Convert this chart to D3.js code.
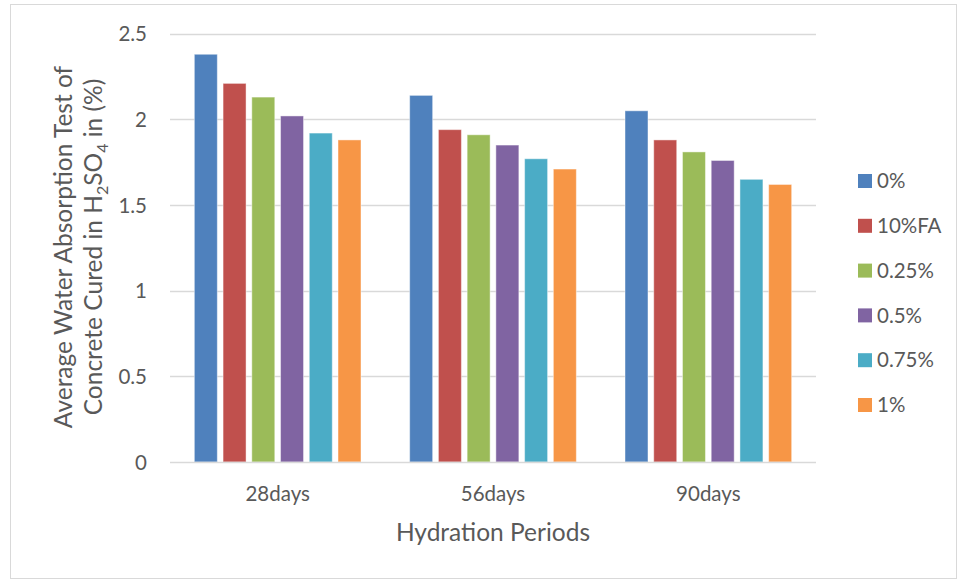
<!DOCTYPE html>
<html>
<head>
<meta charset="utf-8">
<script src="https://cdn.jsdelivr.net/npm/d3@7/dist/d3.min.js"></script>
<style>
  html, body { margin: 0; padding: 0; background: #fff; }
  svg text { font-family: Lato, "Open Sans", sans-serif; fill: #595959; }
</style>
</head>
<body>
<svg id="chart" width="958" height="581"></svg>
<script>
// Hydration periods on the x axis
const periods = ["28days", "56days", "90days"];
// Mix series shown in the legend
const mixes = ["0%", "10%FA", "0.25%", "0.5%", "0.75%", "1%"];
// Average water absorption (%) per mix, one value per period
const s0 = [2.38, 2.14, 2.05];
const s10FA = [2.21, 1.94, 1.88];
const s025 = [2.13, 1.91, 1.81];
const s05 = [2.02, 1.85, 1.76];
const s075 = [1.92, 1.77, 1.65];
const s1 = [1.88, 1.71, 1.62];
const yTicks = [0, 0.5, 1, 1.5, 2, 2.5];
const colors = ["#4F81BD", "#C0504D", "#9BBB59", "#8064A2", "#4BACC6", "#F79646"];

const seriesValues = [s0, s10FA, s025, s05, s075, s1];

const svg = d3.select("#chart");

// outer chart border
svg.append("rect")
  .attr("x", 10.5).attr("y", 4.5)
  .attr("width", 946).attr("height", 574)
  .attr("fill", "#fff").attr("stroke", "#d9d9d9").attr("stroke-width", 1);

const plot = { left: 170, right: 816, top: 33.7, bottom: 462 };

const y = d3.scaleLinear().domain([0, 2.5]).range([plot.bottom, plot.top]);
const x0 = d3.scaleBand().domain(periods).range([plot.left, plot.right]).padding(0);
const bw = x0.bandwidth();
const x1 = d3.scaleBand().domain(mixes)
  .range([bw * 0.113, bw * 0.887]).paddingInner(0.2).paddingOuter(0);

// horizontal gridlines
svg.append("g")
  .selectAll("line")
  .data(yTicks.filter(d => d > 0))
  .join("line")
  .attr("x1", plot.left).attr("x2", plot.right)
  .attr("y1", d => Math.round(y(d)) + 0.5).attr("y2", d => Math.round(y(d)) + 0.5)
  .attr("stroke", "#d9d9d9").attr("stroke-width", 1.3);

// y tick labels
const yAxis = d3.axisLeft(y).tickValues(yTicks).tickSize(0).tickPadding(0)
  .tickFormat(d => String(d));
const gy = svg.append("g").attr("transform", `translate(147,0)`).call(yAxis);
gy.select(".domain").remove();
gy.selectAll("text")
  .style("font-family", "Lato, 'Open Sans', sans-serif")
  .attr("font-size", 20.5).attr("fill", "#595959").attr("dy", "0.35em");

// bars
const groups = svg.append("g")
  .selectAll("g")
  .data(periods)
  .join("g")
  .attr("transform", d => `translate(${x0(d)},0)`);

groups.selectAll("rect")
  .data((p, i) => mixes.map((m, k) => ({ mix: m, value: seriesValues[k][i], k })))
  .join("rect")
  .attr("x", d => x1(d.mix))
  .attr("width", x1.bandwidth())
  .attr("y", d => y(d.value))
  .attr("height", d => y(0) - y(d.value))
  .attr("fill", d => colors[d.k])
  .attr("stroke", "#ffffff").attr("stroke-opacity", 0.45).attr("stroke-width", 1);

// x axis baseline
svg.append("line")
  .attr("x1", plot.left).attr("x2", plot.right)
  .attr("y1", plot.bottom + 0.5).attr("y2", plot.bottom + 0.5)
  .attr("stroke", "#d9d9d9").attr("stroke-width", 1.5);

// category labels
const xAxis = d3.axisBottom(x0).tickSize(0).tickPadding(0);
const gx = svg.append("g").attr("transform", `translate(0,${plot.bottom})`).call(xAxis);
gx.select(".domain").remove();
gx.selectAll("text")
  .style("font-family", "Lato, 'Open Sans', sans-serif")
  .attr("font-size", 20.5).attr("fill", "#595959")
  .attr("y", 32).attr("dy", "0.35em");

// x axis title
svg.append("text")
  .attr("x", (plot.left + plot.right) / 2).attr("y", 532)
  .attr("dy", "0.35em").attr("text-anchor", "middle")
  .attr("font-size", 24.5)
  .text("Hydration Periods");

// y axis title (two lines, with H2SO4 subscripts)
const yt = svg.append("text")
  .attr("transform", "translate(0,247) rotate(-90)")
  .attr("text-anchor", "middle")
  .attr("font-size", 24.5);
yt.append("tspan").attr("x", 0).attr("y", 72).text("Average Water Absorption Test of");
const l2 = yt.append("tspan").attr("x", 0).attr("y", 102);
l2.append("tspan").text("Concrete Cured in H");
l2.append("tspan").attr("font-size", 16).attr("dy", 6).text("2");
l2.append("tspan").attr("dy", -6).text("SO");
l2.append("tspan").attr("font-size", 16).attr("dy", 6).text("4");
l2.append("tspan").attr("dy", -6).text(" in (%)");

// legend
const legend = svg.append("g").attr("transform", "translate(858,0)");
const rowY = d3.scalePoint().domain(mixes).range([181, 405]);
const items = legend.selectAll("g").data(mixes).join("g")
  .attr("transform", d => `translate(0,${rowY(d)})`);
items.append("rect")
  .attr("x", 0).attr("y", -7).attr("width", 14).attr("height", 14)
  .attr("fill", (d, i) => colors[i]);
items.append("text")
  .attr("x", 19).attr("dy", "0.35em")
  .attr("font-size", 20.5)
  .text(d => d);
</script>
</body>
</html>
